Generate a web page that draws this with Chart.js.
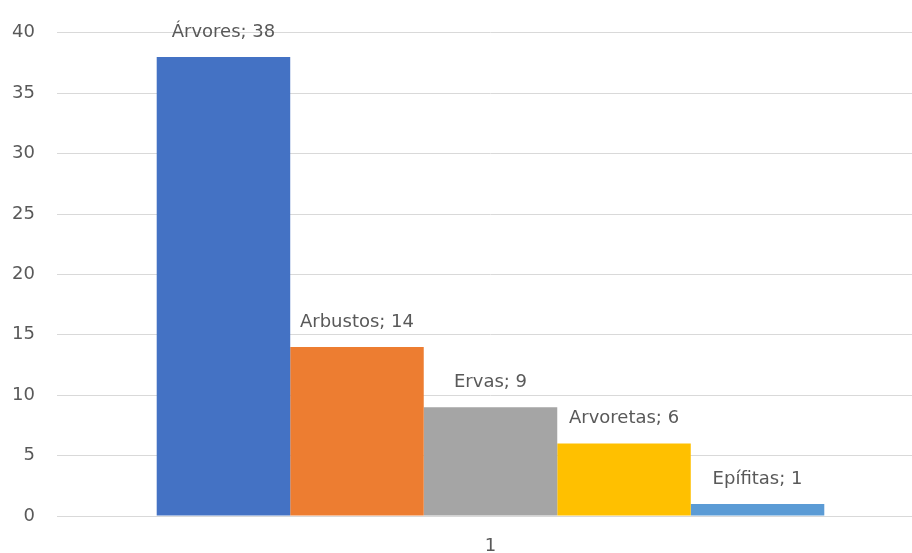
<!DOCTYPE html>
<html>
<head>
<meta charset="utf-8">
<script src="https://cdn.jsdelivr.net/npm/chart.js@4/dist/chart.umd.min.js"></script>
<style>
  html, body { margin: 0; padding: 0; background: #fff; overflow: hidden; }
  #wrap { position: relative; width: 930px; height: 553px; }
</style>
</head>
<body>
<div id="wrap"><canvas id="chart"></canvas></div>
<script>
// Plant life forms, one bar per group
const categories = ['1'];
const seriesNames = ['Árvores', 'Arbustos', 'Ervas', 'Arvoretas', 'Epífitas'];
const seriesValues = [38, 14, 9, 6, 1];
const seriesColors = ['#4472C4', '#ED7D31', '#A5A5A5', '#FFC000', '#5B9BD5'];
const yTicks = [0, 5, 10, 15, 20, 25, 30, 35, 40];

const textColor = '#595959';
const fontFamily = '"DejaVu Sans", sans-serif';

// "Name; value" above every bar
const barLabels = {
  id: 'barLabels',
  afterDatasetsDraw(chart) {
    const ctx = chart.ctx;
    ctx.save();
    ctx.font = '18px ' + fontFamily;
    ctx.fillStyle = textColor;
    ctx.textAlign = 'center';
    ctx.textBaseline = 'middle';
    chart.data.datasets.forEach((ds, i) => {
      const bar = chart.getDatasetMeta(i).data[0];
      ctx.fillText(ds.label + '; ' + ds.data[0], bar.x, bar.y - 25);
    });
    ctx.restore();
  }
};

new Chart(document.getElementById('chart'), {
  type: 'bar',
  data: {
    labels: categories,
    datasets: seriesNames.map((name, i) => ({
      label: name,
      data: [seriesValues[i]],
      backgroundColor: seriesColors[i],
      borderWidth: 0
    }))
  },
  options: {
    responsive: true,
    maintainAspectRatio: false,
    animation: false,
    layout: { padding: { top: 21, right: 6, left: 0, bottom: 0 } },
    datasets: {
      bar: { categoryPercentage: 0.77, barPercentage: 1 }
    },
    plugins: {
      legend: { display: false },
      tooltip: { enabled: false }
    },
    scales: {
      x: {
        grid: { display: false, drawTicks: false },
        border: { color: '#D9D9D9', width: 1 },
        ticks: { color: textColor, font: { family: fontFamily, size: 18 }, padding: 20 },
        afterFit(scale) { scale.height = 37; }
      },
      y: {
        min: 0,
        max: 40,
        afterBuildTicks(scale) { scale.ticks = yTicks.map(v => ({ value: v })); },
        grid: { color: '#D9D9D9', drawTicks: false },
        border: { display: false },
        ticks: { color: textColor, font: { family: fontFamily, size: 18 }, padding: 22 },
        afterFit(scale) { scale.width = 57; }
      }
    }
  },
  plugins: [barLabels]
});
</script>
</body>
</html>
